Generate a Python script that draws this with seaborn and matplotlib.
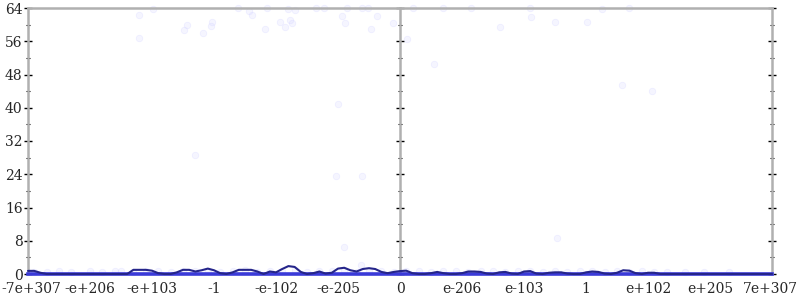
import numpy as np
import pandas as pd
import matplotlib
matplotlib.use("Agg")
import matplotlib.pyplot as plt
import matplotlib.transforms as mtransforms
import seaborn as sns

# ---- data -------------------------------------------------------------
tick_pos = [-6, -5, -4, -3, -2, -1, 0, 1, 2, 3, 4, 5, 6]
tick_labels = ["-7e+307", "-e+206", "-e+103", "-1", "-e-102", "-e-205", "0",
               "e-206", "e-103", "1", "e+102", "e+205", "7e+307"]

bin_x = np.linspace(-6, 6, 121)
bin_count = [0.75, 0.75, 0.3, 0, 0, 0, 0, 0, 0, 0, 0, 0, 0, 0, 0, 0, 0,
             1.0, 1.0, 1.0, 0.8, 0.2, 0, 0, 0.4, 1.0, 1.0, 0.6, 0.9, 1.3, 0.9,
             0.2, 0, 0.4, 1.0, 1.0, 1.0, 0.6, 0, 0.6, 0.4, 1.2, 1.9, 1.7, 0.5,
             0, 0.2, 0.6, 0.1, 0.3, 1.3, 1.5, 0.9, 0.6, 1.2, 1.4, 1.2, 0.5, 0.2,
             0.5, 0.7, 0.8, 0.2, 0, 0, 0.2, 0.5, 0.2, 0, 0, 0.2, 0.6, 0.6, 0.5,
             0.1, 0, 0.4, 0.5, 0.1, 0, 0.6, 0.7, 0.1, 0, 0.3, 0.4, 0.4, 0.1, 0,
             0, 0.4, 0.6, 0.5, 0.1, 0, 0.3, 0.9, 0.8, 0.2, 0, 0.3, 0.3, 0,
             0, 0, 0, 0, 0, 0, 0, 0, 0, 0, 0, 0, 0, 0, 0, 0, 0, 0]

pt_x = [-4.21, -3.98, -3.44, -3.48, -3.18, -3.03, -3.05, -4.21, -2.61, -2.44,
        -2.39, -2.15, -2.18, -1.94, -1.85, -1.77, -1.74, -1.81, -1.69, -1.35,
        -1.23, -0.94, -0.89, -0.85, -0.61, -0.52, -0.37, -0.47, -0.11, 0.21,
        0.69, 1.15, 0.11, 1.61, 2.10, 2.11, 2.50, 3.02, 3.26, 3.69, -3.31,
        0.55, -0.90, -0.63, 2.53, 3.58, 4.06, -1.00, -1.03, -0.61,
        -5.9, -5.7, -5.5, -5.3, -5.0, -4.8, -4.6, -4.5, -4.3, -4.1, -3.9,
        -3.7, -3.5, -3.3, -3.1, -2.9, -2.7, -2.5, -2.3, -2.1, -1.9, -1.7,
        -1.5, -1.3, -1.1, -0.9, -0.7, -0.5, -0.3, -0.1, 0.1, 0.3, 0.5, 0.7,
        0.9, 1.1, 1.3, 1.5, 1.7, 1.9, 2.1, 2.3, 2.5, 2.7, 2.9, 3.1, 3.3,
        3.5, 3.7, 3.9, 4.1, 4.3, 4.6, 4.9, 5.3]
pt_y = [62.3, 63.8, 60.0, 58.7, 58.0, 60.6, 59.7, 56.8, 64.0, 63.3,
        62.3, 64.0, 59.0, 60.6, 59.4, 61.0, 60.4, 63.8, 63.5, 64.0,
        64.0, 62.0, 60.4, 64.0, 64.0, 64.0, 62.0, 59.0, 60.4, 64.0,
        64.0, 64.0, 56.5, 59.4, 64.0, 61.8, 60.6, 60.6, 63.8, 64.0, 28.6,
        50.5, 6.5, 2.2, 8.7, 45.5, 44.0, 41.0, 23.5, 23.5,
        0.6, 0.5, 0.7, 0.6, 0.7, 0.6, 0.8, 0.7, 0.6, 0.8, 0.7,
        0.6, 0.8, 0.7, 0.8, 0.6, 0.7, 0.9, 0.6, 0.8, 0.7, 0.9,
        0.6, 0.8, 0.7, 0.9, 0.6, 0.8, 0.7, 0.6, 0.7, 0.8, 0.6, 0.7,
        0.8, 0.6, 0.7, 0.8, 0.6, 0.7, 0.8, 0.6, 0.7, 0.6, 0.8, 0.7, 0.6,
        0.7, 0.6, 0.7, 0.6, 0.5, 0.6, 0.5, 0.4]

y_ticks = [0, 8, 16, 24, 32, 40, 48, 56, 64]
y_minor = [4, 12, 20, 28, 36, 44, 52, 60]

# ---- plot -------------------------------------------------------------
sns.set_style("white")
plt.rcParams["font.family"] = ["DejaVu Serif"]

fig = plt.figure(figsize=(8, 3), dpi=100)
ax = fig.add_axes([28 / 800, 26 / 300, 744 / 800, 266 / 300])

pts = pd.DataFrame({"x": pt_x, "y": pt_y})
sns.scatterplot(data=pts, x="x", y="y", ax=ax, color="#d8d8ff", alpha=0.25,
                s=22, edgecolor="#c8c8ff", linewidth=0.5, zorder=2, clip_on=False)

line = pd.DataFrame({"x": bin_x, "y": bin_count})
sns.lineplot(data=line, x="x", y="y", ax=ax, color="#25258a", linewidth=1.5,
             zorder=4, clip_on=False)

ax.set_xlim(-6, 6)
ax.set_ylim(0, 64)
ax.set_xlabel("")
ax.set_ylabel("")

for side in ["top", "left", "right"]:
    ax.spines[side].set_visible(True)
    ax.spines[side].set_color("#b0b0b0")
    ax.spines[side].set_linewidth(1.8)
ax.spines["bottom"].set_color("#3a3ad8")
ax.spines["bottom"].set_linewidth(2.6)
ax.spines["bottom"].set_zorder(3)

ax.set_xticks(tick_pos)
ax.set_xticklabels(tick_labels)
ax.set_yticks(y_ticks)
ax.set_yticks(y_minor, minor=True)
ax.tick_params(axis="x", direction="inout", length=8, width=1, color="black",
               labelsize=10, pad=2)
ax.tick_params(axis="y", which="major", direction="inout", length=6, width=1,
               color="black", labelsize=10, pad=1, right=True, left=True)
ax.tick_params(axis="y", which="minor", direction="inout", length=3, width=0.8,
               color="black", right=True, left=True)
ax.tick_params(axis="y", labelright=False)

# keep the outermost x labels inside the figure
xl = ax.get_xticklabels()
xl[0].set_horizontalalignment("left")
xl[0].set_transform(xl[0].get_transform() +
                    mtransforms.ScaledTranslation(-27 / 100, 0, fig.dpi_scale_trans))
xl[-1].set_horizontalalignment("right")
xl[-1].set_transform(xl[-1].get_transform() +
                     mtransforms.ScaledTranslation(26 / 100, 0, fig.dpi_scale_trans))

# central vertical axis at x = 0
sec = ax.secondary_yaxis(0.5)
for sp in sec.spines.values():
    sp.set_color("#b0b0b0")
    sp.set_linewidth(1.8)
sec.set_yticks(y_ticks)
sec.set_yticklabels([])
sec.set_yticks(y_minor, minor=True)
sec.tick_params(axis="y", which="major", direction="inout", length=6, width=1,
                color="black", labelleft=False, labelright=False)
sec.tick_params(axis="y", which="minor", direction="inout", length=3, width=0.8,
                color="black")

ax.grid(False)
fig.savefig("out.png", dpi=100)
